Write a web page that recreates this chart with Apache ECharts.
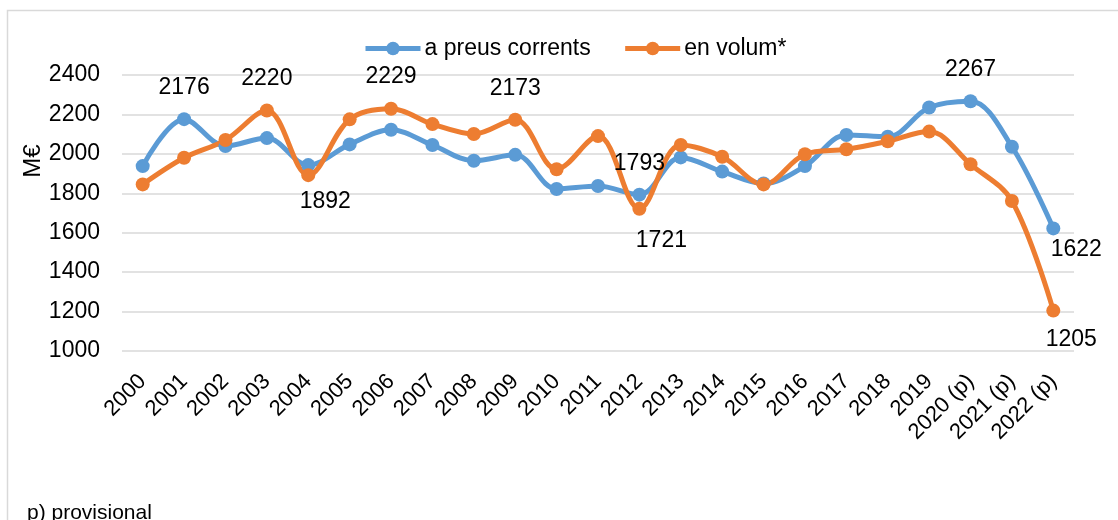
<!DOCTYPE html>
<html>
<head>
<meta charset="utf-8">
<script src="https://cdn.jsdelivr.net/npm/echarts@6/dist/echarts.min.js"></script>
<style>
html,body{margin:0;padding:0;background:#fff;}
#chart{width:1118px;height:520px;}
</style>
</head>
<body>
<div id="chart"></div>
<script>
const categories = ['2000','2001','2002','2003','2004','2005','2006','2007','2008','2009','2010','2011','2012','2013','2014','2015','2016','2017','2018','2019','2020 (p)','2021 (p)','2022 (p)'];
const preusCorrents = [1938, 2176, 2040, 2080, 1943, 2048, 2122, 2045, 1965, 1995, 1822, 1837, 1793, 1982, 1910, 1850, 1938, 2096, 2087, 2235, 2267, 2036, 1622];
const enVolum = [1845, 1980, 2070, 2220, 1892, 2175, 2229, 2151, 2101, 2173, 1922, 2090, 1721, 2045, 1985, 1845, 1998, 2023, 2064, 2113, 1947, 1761, 1205];
const yTicks = [1000, 1200, 1400, 1600, 1800, 2000, 2200, 2400];
const seriesNames = ['a preus corrents', 'en volum*'];
const footnote = 'p) provisional';
const yName = 'M€';

// label placement (styling only)
const FONT = "'Liberation Sans', Arial, sans-serif";
const blueLabelStyle = {
  1: {position: 'top', distance: 13},
  12: {position: 'top', distance: 13},
  20: {position: 'top', distance: 13},
  22: {position: 'bottom', distance: 3, offset: [23, 0]}
};
const orangeLabelStyle = {
  3: {position: 'top', distance: 13},
  4: {position: 'bottom', distance: 8, offset: [17, 0]},
  6: {position: 'top', distance: 14},
  9: {position: 'top', distance: 13},
  12: {position: 'bottom', distance: 13, offset: [22, 0]},
  22: {position: 'bottom', distance: 11, offset: [18, 0]}
};

function buildData(values, labelMap) {
  return values.map((v, i) => {
    const l = labelMap[i];
    if (!l) return {value: v, label: {show: false}};
    return {value: v, label: Object.assign({show: true, color: '#000', fontSize: 23, fontFamily: FONT}, l)};
  });
}

const chart = echarts.init(document.getElementById('chart'), null, {renderer: 'canvas'});
const BLUE = '#5B9BD5', ORANGE = '#ED7D31';
chart.setOption({
  animation: false,
  backgroundColor: '#fff',
  textStyle: {fontFamily: FONT},
  graphic: [
    {type: 'rect', shape: {x: 7.5, y: 10.5, width: 1200, height: 600}, style: {fill: 'none', stroke: '#d9d9d9', lineWidth: 1.5}, z: -10},
    {type: 'text', x: 33, y: 161, rotation: Math.PI / 2, style: {text: yName, font: "24px " + FONT, fill: '#000', textAlign: 'center', textVerticalAlign: 'middle'}},
    {type: 'text', left: 27, top: 503, style: {text: footnote, font: "21px " + FONT, fill: '#000'}}
  ],
  legend: {
    left: 358, top: 32,
    itemWidth: 55, itemHeight: 17, itemGap: 32,
    lineStyle: {width: 5},
    textStyle: {fontSize: 23, color: '#000', fontFamily: FONT, padding: [0, 0, 0, -1]},
    data: seriesNames
  },
  grid: {left: 122, right: 44, top: 75, bottom: 169},
  xAxis: {
    type: 'category', data: categories, boundaryGap: true,
    axisLine: {show: false}, axisTick: {show: false},
    axisLabel: {interval: 0, rotate: 45, fontSize: 22, color: '#000', margin: 27, fontFamily: FONT}
  },
  yAxis: {
    type: 'value', min: yTicks[0], max: yTicks[yTicks.length - 1], interval: yTicks[1] - yTicks[0],
    axisLine: {show: false}, axisTick: {show: false},
    axisLabel: {fontSize: 23, color: '#000', margin: 22, fontFamily: FONT, formatter: v => String(v)},
    splitLine: {lineStyle: {color: '#d9d9d9', width: 1.5}}
  },
  series: [
    {name: seriesNames[0], type: 'line', smooth: 0.35, symbol: 'circle', symbolSize: 14,
     lineStyle: {color: BLUE, width: 5}, itemStyle: {color: BLUE},
     data: buildData(preusCorrents, blueLabelStyle)},
    {name: seriesNames[1], type: 'line', smooth: 0.35, symbol: 'circle', symbolSize: 14,
     lineStyle: {color: ORANGE, width: 5}, itemStyle: {color: ORANGE},
     data: buildData(enVolum, orangeLabelStyle)}
  ]
});
</script>
</body>
</html>
